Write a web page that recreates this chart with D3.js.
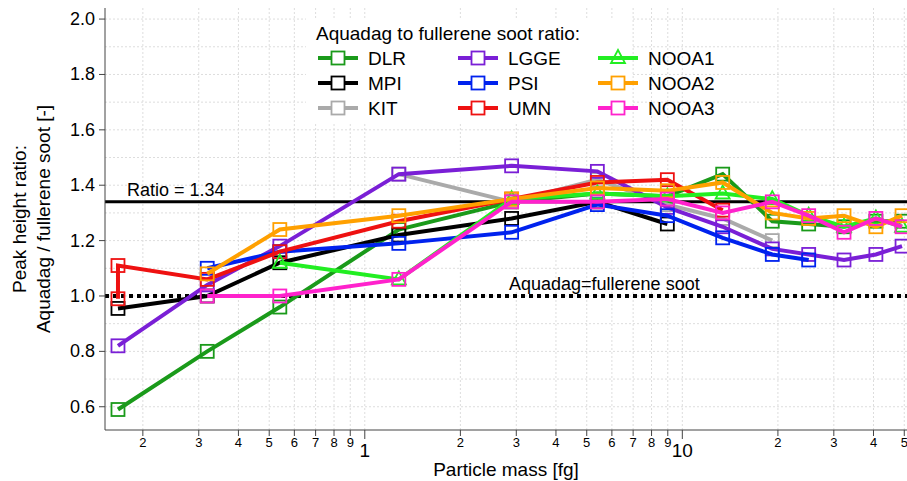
<!DOCTYPE html><html><head><meta charset="utf-8"><script src="https://cdn.jsdelivr.net/npm/d3@7"></script>
<style>body{margin:0;background:#fff}text{font-family:"Liberation Sans",Arial,sans-serif}</style></head><body><svg id="c" width="907" height="481"></svg><script>
const masses=[0.167,0.319,0.54,1.28,2.9,5.4,8.97,13.4,19.2,25,32.3,40.7,49.2];
const names=["DLR","MPI","KIT","LGGE","PSI","UMN","NOOA1","NOOA2","NOOA3"];
const colors=["#1a9a1a","#000000","#aaaaaa","#7a1fd6","#0022ee","#ee1111","#22ee22","#ffa000","#ff22cc"];
const DLR=[[0,0.59],[1,0.80],[2,0.96],[3,1.24],[4,1.34],[5,1.37],[6,1.36],[7,1.44],[8,1.27],[9,1.26],[10,1.25],[11,1.27],[12,1.27]];
const MPI=[[0,0.955],[1,1.0],[2,1.12],[3,1.22],[4,1.28],[5,1.34],[6,1.26]];
const KIT=[[3,1.44],[4,1.34],[5,1.42],[6,1.33],[7,1.28],[8,1.20]];
const LGGE=[[0,0.82],[1,1.04],[2,1.18],[3,1.44],[4,1.47],[5,1.45],[6,1.32],[7,1.25],[8,1.17],[9,1.15],[10,1.13],[11,1.15],[12,1.18]];
const PSI=[[1,1.10],[2,1.16],[3,1.19],[4,1.23],[5,1.33],[6,1.29],[7,1.21],[8,1.15],[9,1.13]];
const UMN=[[0,0.99],[0,1.11],[1,1.06],[2,1.16],[3,1.27],[4,1.35],[5,1.41],[6,1.42],[7,1.31]];
const NOOA1=[[2,1.12],[3,1.06],[4,1.35],[5,1.37],[6,1.36],[7,1.37],[8,1.35],[9,1.29],[10,1.25],[11,1.28],[12,1.25]];
const NOOA2=[[1,1.08],[2,1.24],[3,1.29],[4,1.35],[5,1.39],[6,1.38],[7,1.41],[8,1.30],[9,1.28],[10,1.29],[11,1.25],[12,1.29]];
const NOOA3=[[1,1.00],[2,1.00],[3,1.06],[4,1.34],[5,1.34],[6,1.35],[7,1.30],[8,1.34],[9,1.29],[10,1.23],[11,1.28],[12,1.25]];
const series=[DLR,MPI,KIT,LGGE,PSI,UMN,NOOA1,NOOA2,NOOA3];
const yTicks=[0.6,0.8,1.0,1.2,1.4,1.6,1.8,2.0];
const ratio=1.34;
const svg=d3.select("#c");
const L=105,R=907,T=8,B=430;
const x=d3.scaleLog().domain([0.152,51]).range([L,R]);
const y=d3.scaleLinear().domain([0.516,2.04]).range([B,T]);
const minor=[];for(const d of [0.1,1,10]){for(let k=1;k<10;k++){const v=d*k;if(v>=0.152&&v<=51)minor.push(v);}}
svg.append("g").selectAll("line").data(minor).join("line").attr("x1",d=>x(d)).attr("x2",d=>x(d)).attr("y1",T).attr("y2",B).attr("stroke","#ddd").attr("stroke-dasharray","2,2");
svg.append("g").selectAll("line").data(d3.range(0.6,2.01,0.1)).join("line").attr("x1",L).attr("x2",R).attr("y1",d=>y(d)).attr("y2",d=>y(d)).attr("stroke","#ddd").attr("stroke-dasharray","2,2");
svg.append("line").attr("x1",L).attr("x2",R).attr("y1",y(ratio)).attr("y2",y(ratio)).attr("stroke","#000").attr("stroke-width",3);
svg.append("line").attr("x1",L).attr("x2",R).attr("y1",y(1)).attr("y2",y(1)).attr("stroke","#000").attr("stroke-width",4).attr("stroke-dasharray","4,4");
svg.append("text").attr("x",127).attr("y",y(ratio)-6).attr("font-size",18).text("Ratio = 1.34");
svg.append("text").attr("x",509).attr("y",y(1)-6).attr("font-size",18).text("Aquadag=fullerene soot");
const line=d3.line().x(d=>x(masses[d[0]])).y(d=>y(d[1]));
series.forEach((s,i)=>{
 const g=svg.append("g");
 g.append("path").attr("d",line(s)).attr("fill","none").attr("stroke",colors[i]).attr("stroke-width",4);
 s.forEach(d=>{const cx=x(masses[d[0]]),cy=y(d[1]);
  if(names[i]==="NOOA1")g.append("path").attr("d",`M${cx},${cy-8}L${cx+7},${cy+5}L${cx-7},${cy+5}Z`).attr("fill","none").attr("stroke",colors[i]).attr("stroke-width",1.8);
  else g.append("rect").attr("x",cx-6.5).attr("y",cy-6.5).attr("width",13).attr("height",13).attr("fill","none").attr("stroke",colors[i]).attr("stroke-width",1.8);});
});
svg.append("line").attr("x1",L).attr("x2",L).attr("y1",T).attr("y2",B).attr("stroke","#444");
svg.append("line").attr("x1",L).attr("x2",R).attr("y1",B).attr("y2",B).attr("stroke","#444");
yTicks.forEach(v=>{svg.append("line").attr("x1",L-6).attr("x2",L).attr("y1",y(v)).attr("y2",y(v)).attr("stroke","#444");
 svg.append("text").attr("x",L-10).attr("y",y(v)+6).attr("text-anchor","end").attr("font-size",18).text(v.toFixed(1));});
minor.forEach(v=>{const major=Math.abs(Math.log10(v)-Math.round(Math.log10(v)))<1e-9;
 svg.append("line").attr("x1",x(v)).attr("x2",x(v)).attr("y1",B).attr("y2",B+(major?9:6)).attr("stroke","#444");
 const lab=v<0.99?Math.round(v*10):v<9.99?(major?1:Math.round(v)):(major?10:Math.round(v/10));
 svg.append("text").attr("x",x(v)).attr("y",B+(major?27:17)).attr("text-anchor","middle").attr("font-size",major?19:13).text(lab);});
svg.append("text").attr("x",506).attr("y",476).attr("text-anchor","middle").attr("font-size",19).text("Particle mass [fg]");
svg.append("text").attr("transform","translate(26,219)rotate(-90)").attr("text-anchor","middle").attr("font-size",19).text("Peak height ratio:");
svg.append("text").attr("transform","translate(50,219)rotate(-90)").attr("text-anchor","middle").attr("font-size",19).text("Aquadag / fullerene soot [-]");
svg.append("rect").attr("x",306).attr("y",18).attr("width",325).attr("height",106).attr("fill","#fff");
svg.append("text").attr("x",316).attr("y",40).attr("font-size",19).text("Aquadag to fullerene soot ratio:");
names.forEach((n,i)=>{const col=Math.floor(i/3),row=i%3;const lx=318+col*140,ly=58+row*25;
 svg.append("line").attr("x1",lx).attr("x2",lx+40).attr("y1",ly).attr("y2",ly).attr("stroke",colors[i]).attr("stroke-width",4);
 if(n==="NOOA1")svg.append("path").attr("d",`M${lx+20},${ly-8}L${lx+27},${ly+5}L${lx+13},${ly+5}Z`).attr("fill","none").attr("stroke",colors[i]).attr("stroke-width",1.8);
 else svg.append("rect").attr("x",lx+13.5).attr("y",ly-6.5).attr("width",13).attr("height",13).attr("fill","#fff").attr("stroke",colors[i]).attr("stroke-width",1.8);
 svg.append("text").attr("x",lx+50).attr("y",ly+7).attr("font-size",19).text(n);});
</script></body></html>
